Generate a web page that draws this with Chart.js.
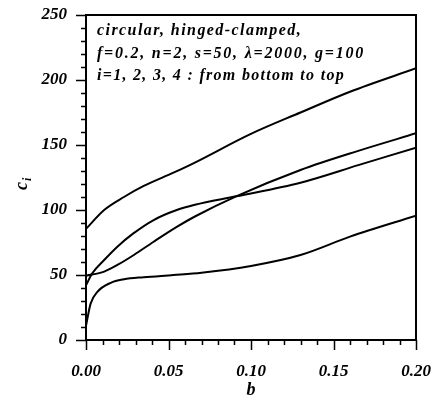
<!DOCTYPE html>
<html lang="en">
<head>
    <meta charset="UTF-8">
    <title>c_i vs b</title>
    <script src="https://cdn.jsdelivr.net/npm/chart.js@4.4.1/dist/chart.umd.min.js"></script>
    <style>
        html, body { margin: 0; padding: 0; background: #fff; }
    </style>
</head>
<body>
    <canvas id="chart" width="438" height="405"></canvas>

    <script>
        // curves, bottom one (at b=0.2) first
        const b1 = [0, 0.0028, 0.0069, 0.015, 0.023, 0.035, 0.053, 0.07, 0.1, 0.13, 0.16, 0.2];
        const c1 = [11, 28, 37, 44, 46.7, 48.3, 50, 51.8, 57, 65.4, 79.5, 95.6];

        const b2 = [0, 0.0038, 0.011, 0.019, 0.0287, 0.041, 0.055, 0.066, 0.091, 0.13, 0.165, 0.2];
        const c2 = [42, 51.3, 61.5, 71.8, 82, 92.3, 100, 104, 110.5, 121, 134.5, 148];

        const b3 = [0, 0.011, 0.019, 0.029, 0.041, 0.055, 0.066, 0.091, 0.13, 0.165, 0.2];
        const c3 = [49.5, 52.6, 57.7, 65.4, 75.6, 87, 95, 110.5, 130.8, 145.5, 159];

        const b4 = [0, 0.011, 0.023, 0.035, 0.053, 0.066, 0.099, 0.13, 0.16, 0.2];
        const c4 = [85.5, 100, 110, 118.5, 128.7, 136.5, 158, 175, 191, 209];

        const xMajor = 0.05, xMinor = 0.01;
        const yMajor = 50, yMinor = 10;

        const noteLines = [
            'circular, hinged-clamped,',
            'f=0.2, n=2, s=50, \u03bb=2000, g=100',
            'i=1, 2, 3, 4 : from bottom to top'
        ];
        const noteWidths = [205, 268, 248];

        const serif = "'Liberation Serif', 'DejaVu Serif', serif";

        function pts(bs, cs) {
            return bs.map((b, i) => ({ x: b, y: cs[i] }));
        }

        function curve(bs, cs) {
            return {
                data: pts(bs, cs),
                borderColor: '#000',
                borderWidth: 2,
                pointRadius: 0,
                fill: false,
                cubicInterpolationMode: 'monotone'
            };
        }

        const extras = {
            id: 'extras',
            afterDraw(chart) {
                const ctx = chart.ctx;
                const a = chart.chartArea;
                const xs = chart.scales.x, ys = chart.scales.y;
                ctx.save();
                ctx.strokeStyle = '#000';
                ctx.lineWidth = 2;

                // top and right frame
                ctx.beginPath();
                ctx.moveTo(a.left, a.top);
                ctx.lineTo(a.right, a.top);
                ctx.lineTo(a.right, a.bottom);
                ctx.stroke();

                // tick marks
                ctx.lineWidth = 1.5;
                ctx.beginPath();
                for (let i = 0; i <= Math.round(ys.max / yMinor); i++) {
                    const v = i * yMinor;
                    const y = Math.round(ys.getPixelForValue(v)) + 0.5;
                    const len = v % yMajor === 0 ? 10 : 5;
                    ctx.moveTo(a.left - len, y);
                    ctx.lineTo(a.left, y);
                }
                for (let i = 0; i <= Math.round(xs.max / xMinor); i++) {
                    const x = Math.round(xs.getPixelForValue(i * xMinor)) + 0.5;
                    const len = i % Math.round(xMajor / xMinor) === 0 ? 10 : 5;
                    ctx.moveTo(x, a.bottom);
                    ctx.lineTo(x, a.bottom + len);
                }
                ctx.stroke();

                // note in the top-left corner
                ctx.fillStyle = '#000';
                ctx.font = 'italic bold 16px ' + serif;
                ctx.textBaseline = 'alphabetic';
                ctx.textAlign = 'left';
                noteLines.forEach((t, i) => {
                    ctx.letterSpacing = '0px';
                    const w = ctx.measureText(t).width;
                    const sp = Math.max(0, (noteWidths[i] - w) / t.length);
                    ctx.letterSpacing = sp.toFixed(2) + 'px';
                    ctx.fillText(t, a.left + 11, a.top + 20 + i * 22.5);
                });
                ctx.letterSpacing = '0px';

                // axis titles
                ctx.font = 'italic bold 18px ' + serif;
                ctx.textAlign = 'center';
                ctx.fillText('b', (a.left + a.right) / 2, 395);

                ctx.translate(27, 185);
                ctx.rotate(-Math.PI / 2);
                ctx.textAlign = 'left';
                ctx.fillText('c', -5, 0);
                ctx.font = 'italic bold 12px ' + serif;
                ctx.fillText('i', 4, 4);
                ctx.restore();
            }
        };

        const tickFont = { family: serif, size: 17, style: 'italic', weight: 'bold' };

        new Chart(document.getElementById('chart'), {
            type: 'line',
            data: {
                datasets: [curve(b1, c1), curve(b2, c2), curve(b3, c3), curve(b4, c4)]
            },
            options: {
                responsive: false,
                animation: false,
                devicePixelRatio: 1,
                layout: { padding: { left: 0, top: 15, right: 22, bottom: 0 } },
                plugins: { legend: { display: false }, tooltip: { enabled: false } },
                scales: {
                    x: {
                        type: 'linear',
                        min: 0,
                        max: 0.2,
                        afterFit(scale) {
                            scale.height = 65;
                            scale.paddingLeft = 0;
                            scale.paddingRight = 0;
                        },
                        border: { color: '#000', width: 2 },
                        grid: { display: false, drawTicks: false },
                        ticks: {
                            stepSize: xMajor,
                            padding: 21,
                            color: '#000',
                            font: tickFont,
                            callback: v => v.toFixed(2)
                        }
                    },
                    y: {
                        min: 0,
                        max: 250,
                        afterFit(scale) {
                            scale.width = 86;
                            scale.paddingTop = 0;
                            scale.paddingBottom = 0;
                        },
                        border: { color: '#000', width: 2 },
                        grid: { display: false, drawTicks: false },
                        ticks: {
                            stepSize: yMajor,
                            padding: 19,
                            color: '#000',
                            font: tickFont
                        }
                    }
                }
            },
            plugins: [extras]
        });
    </script>
</body>
</html>
